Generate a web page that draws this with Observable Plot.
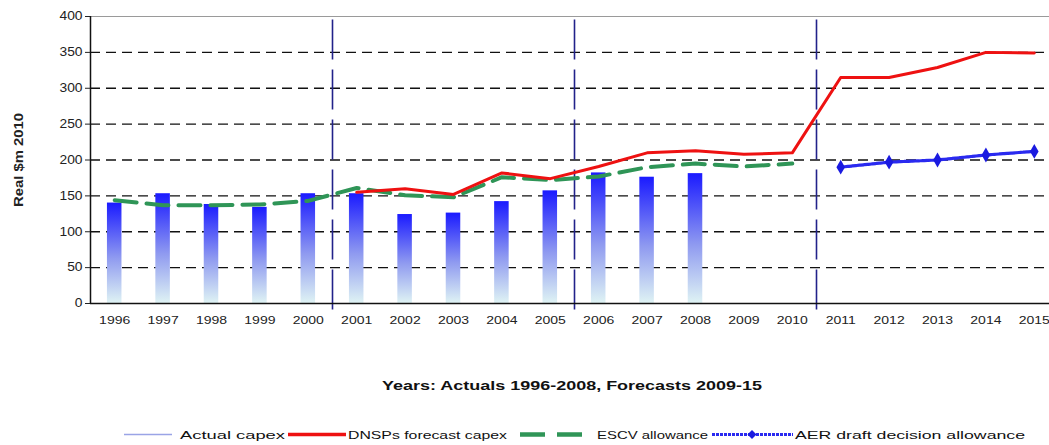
<!DOCTYPE html>
<html>
<head>
<meta charset="utf-8">
<script src="https://cdn.jsdelivr.net/npm/d3@7"></script>
<script src="https://cdn.jsdelivr.net/npm/@observablehq/plot@0.6"></script>
<style>
  body { margin: 0; background: #fff; overflow: hidden; }
  #wrap { position: relative; width: 1049px; height: 445px; }
  #chart svg { overflow: visible; }
  #below { position: absolute; left: 0; top: 0; }
</style>
</head>
<body>
<div id="wrap">
  <div id="chart"></div>
</div>
<script>
// ---- data ----
const years = [1996, 1997, 1998, 1999, 2000, 2001, 2002, 2003, 2004, 2005, 2006, 2007, 2008, 2009, 2010, 2011, 2012, 2013, 2014, 2015];
const actualYears = [1996, 1997, 1998, 1999, 2000, 2001, 2002, 2003, 2004, 2005, 2006, 2007, 2008];
const actualCapex = [140, 153, 138, 134, 153, 153, 124, 126, 142, 157, 182, 176, 181];
const dnspYears = [2001, 2002, 2003, 2004, 2005, 2006, 2007, 2008, 2009, 2010, 2011, 2012, 2013, 2014, 2015];
const dnspForecast = [155, 160, 152, 182, 174, 191, 210, 213, 208, 210, 315, 315, 329, 350, 349];
const escvYears = [1996, 1997, 1998, 1999, 2000, 2001, 2002, 2003, 2004, 2005, 2006, 2007, 2008, 2009, 2010];
const escvAllowance = [144, 137, 137, 138, 143, 161, 151, 148, 176, 172, 177, 190, 195, 191, 195];
const aerYears = [2011, 2012, 2013, 2014, 2015];
const aerAllowance = [190, 197, 200, 207, 212];
const periodBreaks = [2000.5, 2005.5, 2010.5];
const yTicks = [0, 50, 100, 150, 200, 250, 300, 350, 400];
const gridValues = [50, 100, 150, 200, 250, 300, 350];
const titleText = "Years: Actuals 1996-2008, Forecasts 2009-15";
const yLabel = "Real $m 2010";
const legendLabels = ["Actual capex", "DNSPs forecast capex", "ESCV allowance", "AER draft decision allowance"];

const bars = actualYears.map((y, i) => ({year: y, value: actualCapex[i]}));
const dnsp = dnspYears.map((y, i) => ({year: y, value: dnspForecast[i]}));
const escv = escvYears.map((y, i) => ({year: y, value: escvAllowance[i]}));
const aer = aerYears.map((y, i) => ({year: y, value: aerAllowance[i]}));

const FONT = "'Liberation Sans', Arial, sans-serif";
const halfBar = 0.15;

const chart = Plot.plot({
  width: 1049,
  height: 335,
  marginTop: 16,
  marginBottom: 32,
  marginLeft: 90,
  marginRight: 0,
  style: {fontFamily: FONT, fontSize: "12px", color: "#222", background: "transparent"},
  x: {type: "linear", domain: [1995.5, 2015.5], range: [90, 1058], axis: null},
  y: {domain: [0, 400], axis: null},
  marks: [
    Plot.ruleY(gridValues, {stroke: "#111", strokeWidth: 1.4, strokeDasharray: "10,6"}),
    Plot.ruleY([400], {stroke: "#9a9a9a", strokeWidth: 1.2}),
    Plot.rectY(bars, {x1: d => d.year - halfBar, x2: d => d.year + halfBar, y1: 0, y2: "value", fill: "url(#barGrad)"}),
    Plot.ruleX(periodBreaks, {y1: -9, y2: 400, stroke: "#22228a", strokeWidth: 1.6, strokeDasharray: "40,10"}),
    Plot.lineY(escv, {x: "year", y: "value", stroke: "#2f9557", strokeWidth: 4, strokeDasharray: "22,10"}),
    Plot.lineY(dnsp, {x: "year", y: "value", stroke: "#ee1111", strokeWidth: 3}),
    Plot.lineY(aer, {x: "year", y: "value", stroke: "#2a2af0", strokeWidth: 3.2, strokeDasharray: "3,1"}),
    Plot.dot(aer, {x: "year", y: "value", symbol: "diamond", r: 4.5, fill: "#1a1ae0"}),
    Plot.ruleY([0], {stroke: "#111", strokeWidth: 1.5}),
    Plot.ruleX([1995.5], {y1: 0, y2: 400, stroke: "#111", strokeWidth: 1.5}),
    Plot.axisY({ticks: yTicks, tickSize: 5, tickPadding: 3, label: null, fontSize: 12}),
    Plot.axisX({ticks: years, tickSize: 0, tickPadding: 12, tickFormat: d => String(d), label: null, fontSize: 11.5}),
    Plot.text([yLabel], {frameAnchor: "left", dx: -72, rotate: -90, textAnchor: "middle", fontWeight: "bold", fontSize: 12.5})
  ]
});

// gradient for bars
const ns = "http://www.w3.org/2000/svg";
const defs = document.createElementNS(ns, "defs");
defs.innerHTML = `<linearGradient id="barGrad" x1="0" y1="0" x2="0" y2="1">
  <stop offset="0" stop-color="#1a1aff"/>
  <stop offset="0.55" stop-color="#8f9af0"/>
  <stop offset="1" stop-color="#dff3f4"/>
</linearGradient>`;
chart.insertBefore(defs, chart.firstChild);
document.getElementById("chart").appendChild(chart);

// widen the tick labels horizontally (reference text is stretched)
d3.select(chart).selectAll('g[aria-label="x-axis tick label"] text').each(function() {
  const t = this.getAttribute("transform") || "";
  this.setAttribute("transform", t + " scale(1.22,1)");
});
d3.select(chart).selectAll('g[aria-label="y-axis tick label"] text').each(function() {
  const t = this.getAttribute("transform") || "";
  this.setAttribute("transform", t + " scale(1.15,1)");
});
d3.select(chart).selectAll('g[aria-label="text"] text').attr("textLength", 94).attr("lengthAdjust", "spacingAndGlyphs");

// title and legend below the chart
const svg = d3.select("#wrap").append("svg").attr("id", "below")
  .attr("width", 1049).attr("height", 445)
  .style("font-family", FONT).style("overflow", "visible");

svg.append("text").attr("x", 382).attr("y", 390)
  .attr("font-weight", "bold").attr("font-size", 12.5).attr("fill", "#111")
  .attr("textLength", 380).attr("lengthAdjust", "spacingAndGlyphs")
  .text(titleText);

const ly = 434.5;
const lg = svg.append("g").attr("font-size", 11.5).attr("fill", "#111");
// swatches
lg.append("line").attr("x1", 124).attr("x2", 172).attr("y1", ly).attr("y2", ly).attr("stroke", "#9aa4e6").attr("stroke-width", 1.5);
lg.append("line").attr("x1", 288).attr("x2", 346).attr("y1", ly).attr("y2", ly).attr("stroke", "#ee1111").attr("stroke-width", 3.5);
lg.append("line").attr("x1", 520).attr("x2", 592).attr("y1", ly).attr("y2", ly).attr("stroke", "#2f9557").attr("stroke-width", 4.5).attr("stroke-dasharray", "25,12");
lg.append("line").attr("x1", 712).attr("x2", 793).attr("y1", ly).attr("y2", ly).attr("stroke", "#2a2af0").attr("stroke-width", 3.2).attr("stroke-dasharray", "3,1");
lg.append("path").attr("d", `M752,${ly - 4.5} L756.5,${ly} L752,${ly + 4.5} L747.5,${ly} Z`).attr("fill", "#1a1ae0");
// labels
const labelPos = [[180, 105], [348, 159], [597, 111], [795, 230]];
legendLabels.forEach((lab, i) => {
  lg.append("text").attr("x", labelPos[i][0]).attr("y", ly + 4)
    .attr("textLength", labelPos[i][1]).attr("lengthAdjust", "spacingAndGlyphs")
    .text(lab);
});
</script>
</body>
</html>
